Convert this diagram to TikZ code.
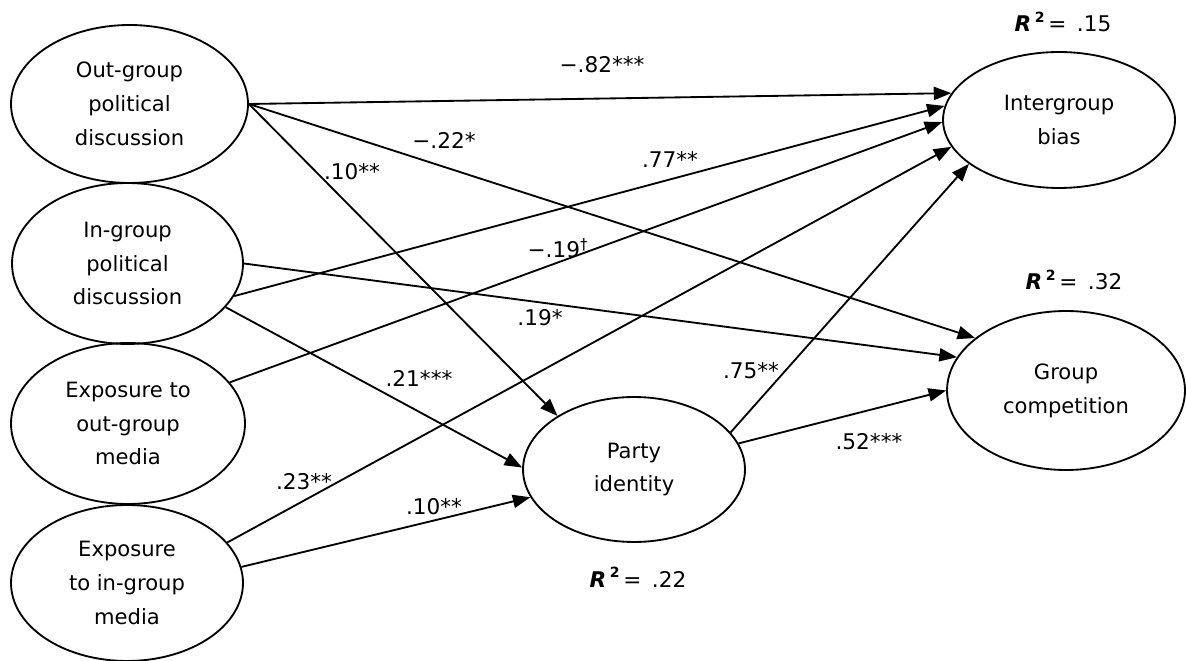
\documentclass[tikz,border=0pt]{standalone}
\usepackage{fontspec}
\setmainfont{DejaVu Sans}
\usetikzlibrary{shapes.geometric,arrows.meta}
\newcommand{\rsq}[1]{{\bfseries\itshape R}\,\raisebox{.45em}{\fontsize{8}{9}\selectfont\bfseries 2}\,= \,#1}
\begin{document}
\begin{tikzpicture}[x=0.02cm,y=-0.02cm,
  lat/.style={draw,ellipse,line width=1.05pt,inner sep=0pt,align=center,font=\fontsize{12}{19.3}\selectfont},
  arr/.style={line width=1.05pt,-{Triangle[length=10pt,width=7.5pt]}},
  coef/.style={font=\fontsize{12.3}{14}\selectfont,inner sep=0pt},
]
\useasboundingbox (0,0) rectangle (1186,661);
% latent variables
\node[lat,minimum width=4.74cm,minimum height=3.16cm] (og) at (129.5,104) {Out-group\\political\\discussion};
\node[lat,minimum width=4.62cm,minimum height=3.22cm] (ig) at (127.5,263.5) {In-group\\political\\discussion};
\node[lat,minimum width=4.68cm,minimum height=3.22cm] (eo) at (128,423.5) {Exposure to\\out-group\\media};
\node[lat,minimum width=4.64cm,minimum height=3.12cm] (ei) at (127,583) {Exposure\\to in-group\\media};
\node[lat,minimum width=4.44cm,minimum height=2.90cm] (pi) at (634,469.5) {Party\\identity};
\node[lat,minimum width=4.64cm,minimum height=2.72cm] (ib) at (1059,120) {Intergroup\\bias};
\node[lat,minimum width=4.76cm,minimum height=3.18cm] (gc) at (1066,390.5) {Group\\competition};
% paths
\draw[arr] (og.east) -- (ib.166);
\draw[arr] (og.east) -- (gc.150);
\draw[arr] (og.east) -- (pi.145);
\draw[arr] (ig.-17) -- (ib.173);
\draw[arr] (ig.east) -- (gc.163);
\draw[arr] (ig.-24) -- (pi.179);
\draw[arr] (eo.22) -- (ib.181);
\draw[arr] (ei.22) -- (ib.194);
\draw[arr] (ei.8) -- (pi.195);
\draw[arr] (pi.21.5) -- (ib.206);
\draw[arr] (pi.14) -- (gc.west);
% coefficients
\node[coef] (c1) at (602,65) {−.82***};
\node[coef] (c2) at (444,140) {−.22*};
\node[coef] (c3) at (670,159) {.77**};
\node[coef] (c4) at (352,172) {.10**};
\node[coef] (c5) at (558,248) {−.19\textsuperscript{†}};
\node[coef] (c6) at (540,318) {.19*};
\node[coef] (c7) at (419,378) {.21***};
\node[coef] (c8) at (751,371) {.75**};
\node[coef] (c9) at (869,442) {.52***};
\node[coef] (c10) at (304,482) {.23**};
\node[coef] (c11) at (434,507) {.10**};
% R squared
\node[coef] (r1) at (1063,22) {\rsq{.15}};
\node[coef] (r2) at (1074,280) {\rsq{.32}};
\node[coef] (r3) at (638,577) {\rsq{.22}};
\end{tikzpicture}
\end{document}
